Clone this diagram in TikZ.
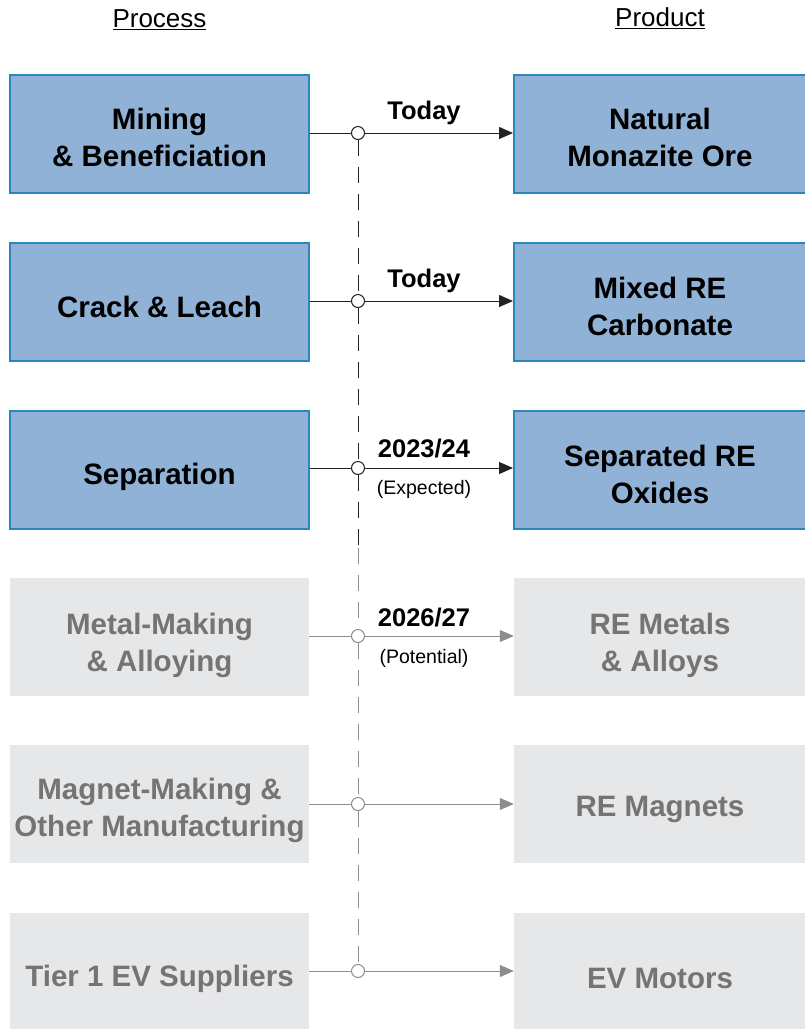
\documentclass[tikz,border=0pt]{standalone}
\usepackage{fontspec}
\setmainfont{Liberation Sans}
\usetikzlibrary{arrows.meta}
\definecolor{bluefill}{HTML}{8FB2D6}
\definecolor{blueline}{HTML}{2E86C1}
\definecolor{grayfill}{HTML}{E6E7E9}
\definecolor{graytext}{HTML}{767372}
\definecolor{grayline}{HTML}{8E8E8E}
\definecolor{darkline}{HTML}{222222}
\tikzset{
  boxbase/.style={minimum height=118pt, inner sep=0pt},
  leftw/.style={minimum width=299pt},
  rightw/.style={minimum width=292pt},
  activebox/.style={boxbase, fill=bluefill, draw=blueline, line width=2pt},
  passivebox/.style={boxbase, fill=grayfill, draw=none},
  boxtext/.style={inner sep=0pt, align=center, font=\fontsize{29.5}{37}\selectfont\bfseries},
  activetext/.style={boxtext, text=black},
  passivetext/.style={boxtext, text=graytext},
  dot/.style={circle, minimum size=13pt, inner sep=0pt, fill=white, line width=1pt},
  darkdot/.style={dot, draw=darkline},
  graydot/.style={dot, draw=grayline},
  darkconn/.style={draw=darkline, line width=1pt},
  grayconn/.style={draw=grayline, line width=1pt},
  darkarrow/.style={darkconn, -{Triangle[length=14pt,width=12pt]}},
  grayarrow/.style={grayconn, -{Triangle[length=14pt,width=12pt]}, fill=grayline},
  darkdash/.style={draw=darkline, line width=1pt, dash pattern=on 16pt off 11pt},
  graydash/.style={draw=grayline, line width=1pt, dash pattern=on 16pt off 11pt},
  yearlabel/.style={font=\fontsize{25.5}{30}\selectfont\bfseries, text=black, inner sep=0pt},
  notelabel/.style={font=\fontsize{19.5}{23}\selectfont, text=black, inner sep=0pt},
  header/.style={font=\fontsize{26}{30}\selectfont, text=black, inner sep=0pt}
}
\begin{document}
\begin{tikzpicture}[x=1pt,y=-1pt]
\useasboundingbox (0,0) rectangle (805,1029);
% headers
\node[header] (hproc) at (159.5,20) {\underline{Process}};
\node[header] (hprod) at (660,18) {\underline{Product}};
% left boxes
\node[activebox,leftw] (p1) at (159.5,134) {};
\node[activebox,leftw] (p2) at (159.5,302) {};
\node[activebox,leftw] (p3) at (159.5,470) {};
\node[passivebox,leftw] (p4) at (159.5,637) {};
\node[passivebox,leftw] (p5) at (159.5,804) {};
\node[passivebox,leftw] (p6) at (159.5,972) {};
% right boxes
\node[activebox,rightw] (r1) at (660,134) {};
\node[activebox,rightw] (r2) at (660,302) {};
\node[activebox,rightw] (r3) at (660,470) {};
\node[passivebox,rightw] (r4) at (660,637) {};
\node[passivebox,rightw] (r5) at (660,804) {};
\node[passivebox,rightw] (r6) at (660,972) {};
% box texts
\node[activetext] (tp1) at ([yshift=-3pt]p1.center) {Mining\\\& Beneficiation};
\node[activetext] (tp2) at ([yshift=-5pt]p2.center) {Crack \& Leach};
\node[activetext] (tp3) at ([yshift=-7pt]p3.center) {Separation};
\node[passivetext] (tp4) at ([yshift=-8pt]p4.center) {Metal-Making\\\& Alloying};
\node[passivetext] (tp5) at ([yshift=-6pt]p5.center) {Magnet-Making \&\\Other Manufacturing};
\node[passivetext] (tp6) at ([yshift=-7pt]p6.center) {Tier 1 EV Suppliers};
\node[activetext] (tr1) at ([yshift=-3pt]r1.center) {Natural\\Monazite Ore};
\node[activetext] (tr2) at ([yshift=-4pt]r2.center) {Mixed RE\\Carbonate};
\node[activetext] (tr3) at ([yshift=-4pt]r3.center) {Separated RE\\Oxides};
\node[passivetext] (tr4) at ([yshift=-8pt]r4.center) {RE Metals\\\& Alloys};
\node[passivetext] (tr5) at ([yshift=-5pt]r5.center) {RE Magnets};
\node[passivetext] (tr6) at ([yshift=-6pt]r6.center) {EV Motors};
% junction dots
\node[darkdot] (c1) at (358,133) {};
\node[darkdot] (c2) at (358,301) {};
\node[darkdot] (c3) at (358,468) {};
\node[graydot] (c4) at (358,636) {};
\node[graydot] (c5) at (358,804) {};
\node[graydot] (c6) at (358,971) {};
\coordinate (mid) at (358,548);
% dashed spine
\draw[darkdash] (c1.south) -- (c2.north);
\draw[darkdash] (c2.south) -- (c3.north);
\draw[darkdash] (c3.south) -- (mid);
\draw[graydash] (mid) -- (c4.north);
\draw[graydash] (c4.south) -- (c5.north);
\draw[graydash] (c5.south) -- (c6.north);
% connectors
\draw[darkconn] (p1.east |- c1) -- (c1.west);
\draw[darkarrow] (c1.east) -- (r1.west |- c1);
\draw[darkconn] (p2.east |- c2) -- (c2.west);
\draw[darkarrow] (c2.east) -- (r2.west |- c2);
\draw[darkconn] (p3.east |- c3) -- (c3.west);
\draw[darkarrow] (c3.east) -- (r3.west |- c3);
\draw[grayconn] (p4.east |- c4) -- (c4.west);
\draw[grayarrow] (c4.east) -- (r4.west |- c4);
\draw[grayconn] (p5.east |- c5) -- (c5.west);
\draw[grayarrow] (c5.east) -- (r5.west |- c5);
\draw[grayconn] (p6.east |- c6) -- (c6.west);
\draw[grayarrow] (c6.east) -- (r6.west |- c6);
% labels
\node[yearlabel] (l1) at (424,113) {Today};
\node[yearlabel] (l2) at (424,281) {Today};
\node[yearlabel] (l3) at (424,449) {2023/24};
\node[notelabel] (n3) at (424,489) {(Expected)};
\node[yearlabel] (l4) at (424,618) {2026/27};
\node[notelabel] (n4) at (424,658) {(Potential)};
\end{tikzpicture}
\end{document}
